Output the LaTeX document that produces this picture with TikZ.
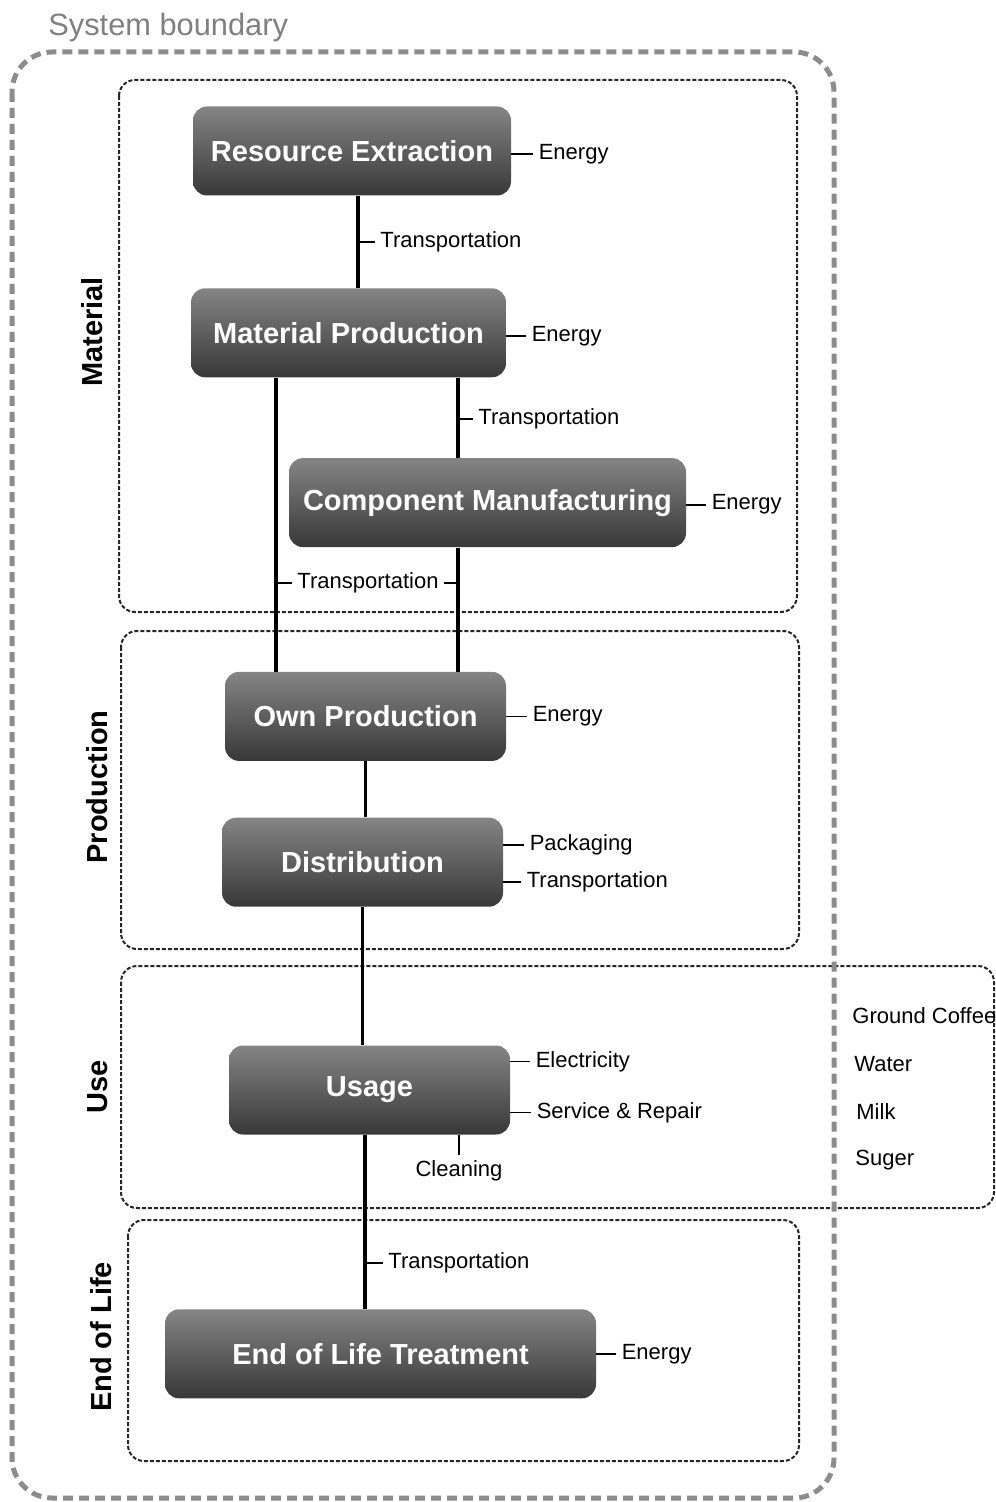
\documentclass[tikz,border=0pt]{standalone}
\usepackage{fontspec}
\setmainfont{Liberation Sans}
\usetikzlibrary{positioning}
\tikzset{
  stage/.style = {rectangle, rounded corners=7pt, top color=black!48, bottom color=black!78, text=white, font=\fontsize{14.5}{17}\selectfont\bfseries, align=center, minimum height=44.5pt, inner sep=0pt},
  lbl/.style = {inner sep=2.5pt, font=\fontsize{11}{13}\selectfont},
  link/.style = {line width=1.6pt},
  tick/.style = {line width=0.9pt},
  phase/.style = {draw=black!85, line width=1pt, dash pattern=on 2pt off 1pt, rounded corners=8pt},
  phaselbl/.style = {rotate=90, inner sep=0pt, font=\fontsize{14.5}{17}\selectfont\bfseries},
  boundary/.style = {draw=black!45, line width=2.5pt, dash pattern=on 5pt off 3pt, rounded corners=20pt}
}

\begin{document}
\begin{tikzpicture}[x=0.5pt, y=-0.5pt]
\useasboundingbox (0,0) rectangle (995,1502);

% Life cycle phases
\draw[phase] (119,80) rectangle (797,612);
\draw[phase] (121,631) rectangle (799,949);
\draw[phase] (121,966) rectangle (994,1208);
\draw[phase] (128,1220) rectangle (799,1461);

\node[phaselbl] (phMat) at (92,332) {Material};
\node[phaselbl] (phProd) at (97,787) {Production};
\node[phaselbl] (phUse) at (98,1087) {Use};
\node[phaselbl] (phEol) at (101,1337) {End of Life};

% System boundary
\draw[boundary] (12,52) rectangle (834,1498);
\node[anchor=base west, inner sep=0pt, text=black!50, font=\fontsize{15.4}{18}\selectfont] (sysb) at (48,36) {System boundary};

% Process chain
\node[stage, minimum width=159pt] (re) at (352,151) {Resource Extraction};
\node[stage, minimum width=157.5pt, below=46pt of re, xshift=-1.75pt] (mp) {Material Production};
\node[stage, minimum width=198.5pt, below=40pt of mp, xshift=69.5pt] (cm) {Component Manufacturing};
\node[stage, minimum width=140.5pt, below=62pt of cm, xshift=-61pt] (op) {Own Production};
\node[stage, minimum width=140.5pt, below=28pt of op, xshift=-1.5pt] (dist) {Distribution};
\node[stage, minimum width=140.5pt, below=69pt of dist, xshift=3.5pt] (use) {Usage};
\node[stage, minimum width=215.5pt, below=87pt of use, xshift=5.5pt] (eol) {End of Life Treatment};

% Links between stages
\coordinate (reOut) at ([xshift=3pt]re.south);
\coordinate (mpL) at ([xshift=-36.25pt]mp.south);
\coordinate (mpR) at ([xshift=54.75pt]mp.south);
\coordinate (useOut) at ([xshift=-2.25pt]use.south);

\draw[link] (reOut) -- (reOut |- mp.north);
\draw[link] (mpL) -- (mpL |- op.north);
\draw[link] (mpR) -- (mpR |- cm.north);
\draw[link] (mpR |- cm.south) -- (mpR |- op.north);
\draw[link] (op.south) -- (op.south |- dist.north);
\draw[link] (dist.south) -- (dist.south |- use.north);
\draw[link] (useOut) -- (useOut |- eol.north);

% Inputs at the side of each stage
\node[lbl, right=11pt of re, yshift=-1.5pt] (reE) {Energy};
\node[lbl, right=10pt of mp, yshift=-1.5pt] (mpE) {Energy};
\node[lbl, right=10pt of cm, yshift=-1pt] (cmE) {Energy};
\node[lbl, right=10.5pt of op] (opE) {Energy};
\node[lbl, right=10.5pt of dist, yshift=8.75pt] (dPack) {Packaging};
\node[lbl, right=9pt of dist, yshift=-9.75pt] (dTrans) {Transportation};
\node[lbl, right=10pt of use, yshift=14.25pt] (uElec) {Electricity};
\node[lbl, right=10.5pt of use, yshift=-11.25pt] (uServ) {Service \& Repair};
\node[lbl, right=10pt of eol] (eolE) {Energy};

\draw[tick] (reE.west -| re.east) -- (reE.west);
\draw[tick] (mpE.west -| mp.east) -- (mpE.west);
\draw[tick] (cmE.west -| cm.east) -- (cmE.west);
\draw[tick] (op.east) -- (opE.west);
\draw[tick] (dPack.west -| dist.east) -- (dPack.west);
\draw[tick] (dTrans.west -| dist.east) -- (dTrans.west);
\draw[tick] (uElec.west -| use.east) -- (uElec.west);
\draw[tick] (uServ.west -| use.east) -- (uServ.west);
\draw[tick] (eol.east) -- (eolE.west);

% Transport on the links
\node[lbl, anchor=west] (reT) at (375,242) {Transportation};
\node[lbl, anchor=west] (mpT) at (473,419) {Transportation};
\node[lbl] (cmT) at (368,583) {Transportation};
\node[lbl, anchor=north] (uClean) at (459,1155) {Cleaning};
\node[lbl, anchor=west] (eolT) at (383,1263) {Transportation};

\draw[tick] (reOut |- reT.west) -- (reT.west);
\draw[tick] (mpR |- mpT.west) -- (mpT.west);
\draw[tick] (mpL |- cmT.west) -- (cmT.west);
\draw[tick] (cmT.east) -- (mpR |- cmT.east);
\draw[tick] (uClean.north |- use.south) -- (uClean.north);
\draw[tick] (useOut |- eolT.west) -- (eolT.west);

% Consumables outside the boundary
\foreach \i/\txt/\xx/\yy in {1/Ground Coffee/847/1016, 2/Water/849/1064, 3/Milk/851/1112, 4/Suger/850/1160}
  \node[lbl, anchor=west] (ing\i) at (\xx,\yy) {\txt};

\end{tikzpicture}
\end{document}
